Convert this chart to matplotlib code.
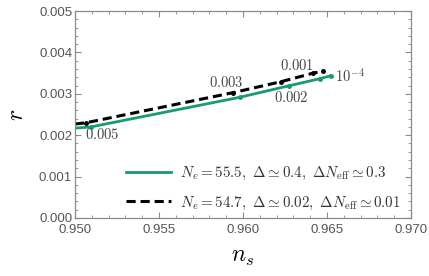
import matplotlib
matplotlib.use("Agg")
import matplotlib.pyplot as plt
from matplotlib.ticker import MultipleLocator

plt.rcParams['mathtext.fontset'] = 'cm'

# Green curve (N_e = 55.5)
ns_green = [0.9500, 0.95095, 0.9598, 0.96276, 0.96458, 0.96523]
r_green = [0.00217, 0.00220, 0.002915, 0.003196, 0.003365, 0.003437]
# Black dashed curve (N_e = 54.7)
ns_black = [0.9500, 0.95065, 0.9594, 0.96227, 0.96414, 0.96478]
r_black = [0.00227, 0.00230, 0.003027, 0.003293, 0.003495, 0.00355]

labels = ["0.005", "0.003", "0.002", "0.001", r"10^{-4}"]
label_ns = [0.9516, 0.95902, 0.96288, 0.96323, 0.96549]
label_r = [0.002005, 0.003285, 0.002906, 0.00368, 0.00343]
label_ha = ["center", "center", "center", "center", "left"]

xticks = [0.950, 0.955, 0.960, 0.965, 0.970]
yticks = [0.000, 0.001, 0.002, 0.003, 0.004, 0.005]

green = '#179b6f'
gray = '#8a8a8a'
tickc = '#555555'

fig = plt.figure(figsize=(4.29, 2.76), dpi=100)
ax = fig.add_axes([75/429, 1-218/276, (411-75)/429, (218-11)/276])

ax.plot(ns_green, r_green, color=green, lw=2.0,
        label=r'$N_e=55.5,\ \Delta\simeq 0.4,\ \Delta N_{\rm eff}\simeq 0.3$')
ax.plot(ns_green[1:], r_green[1:], 'o', color=green, ms=2.5)
ax.plot(ns_black, r_black, color='black', lw=2.2, dashes=(3, 1.6),
        label=r'$N_e=54.7,\ \Delta\simeq 0.02,\ \Delta N_{\rm eff}\simeq 0.01$')
ax.plot(ns_black[1:], r_black[1:], 'o', color='black', ms=2.5)

for t, x, y, ha in zip(labels, label_ns, label_r, label_ha):
    ax.text(x, y, '$' + t + '$', ha=ha, va='center', fontsize=10.5, color='#444444')

ax.set_xlim(0.950, 0.970)
ax.set_ylim(0.0, 0.005)
ax.set_xticks(xticks)
ax.set_yticks(yticks)
ax.set_xticklabels([f"{v:.3f}" for v in xticks])
ax.set_yticklabels([f"{v:.3f}" for v in yticks])
ax.xaxis.set_minor_locator(MultipleLocator(0.001))
ax.yaxis.set_minor_locator(MultipleLocator(0.0002))
ax.tick_params(which='both', direction='in', top=True, right=True, color=gray)
ax.tick_params(which='major', length=4, width=0.8, labelsize=9.5, labelcolor=tickc, pad=2)
ax.tick_params(axis='x', which='major', pad=4)
ax.tick_params(which='minor', length=2, width=0.6)
for lab in ax.get_xticklabels() + ax.get_yticklabels():
    lab.set_fontfamily('Liberation Sans')
for s in ax.spines.values():
    s.set_color(gray)
    s.set_linewidth(0.9)

ax.set_xlabel(r'$n_s$', fontsize=17, labelpad=6)
ax.set_ylabel(r'$r$', fontsize=17, labelpad=8)

leg = ax.legend(loc='lower right', bbox_to_anchor=(1.01, -0.035), frameon=False,
                fontsize=10.8, handlelength=3.0, handletextpad=0.6, labelspacing=0.85)
for t in leg.get_texts():
    t.set_color('#333333')

fig.savefig('out.png', dpi=100)
